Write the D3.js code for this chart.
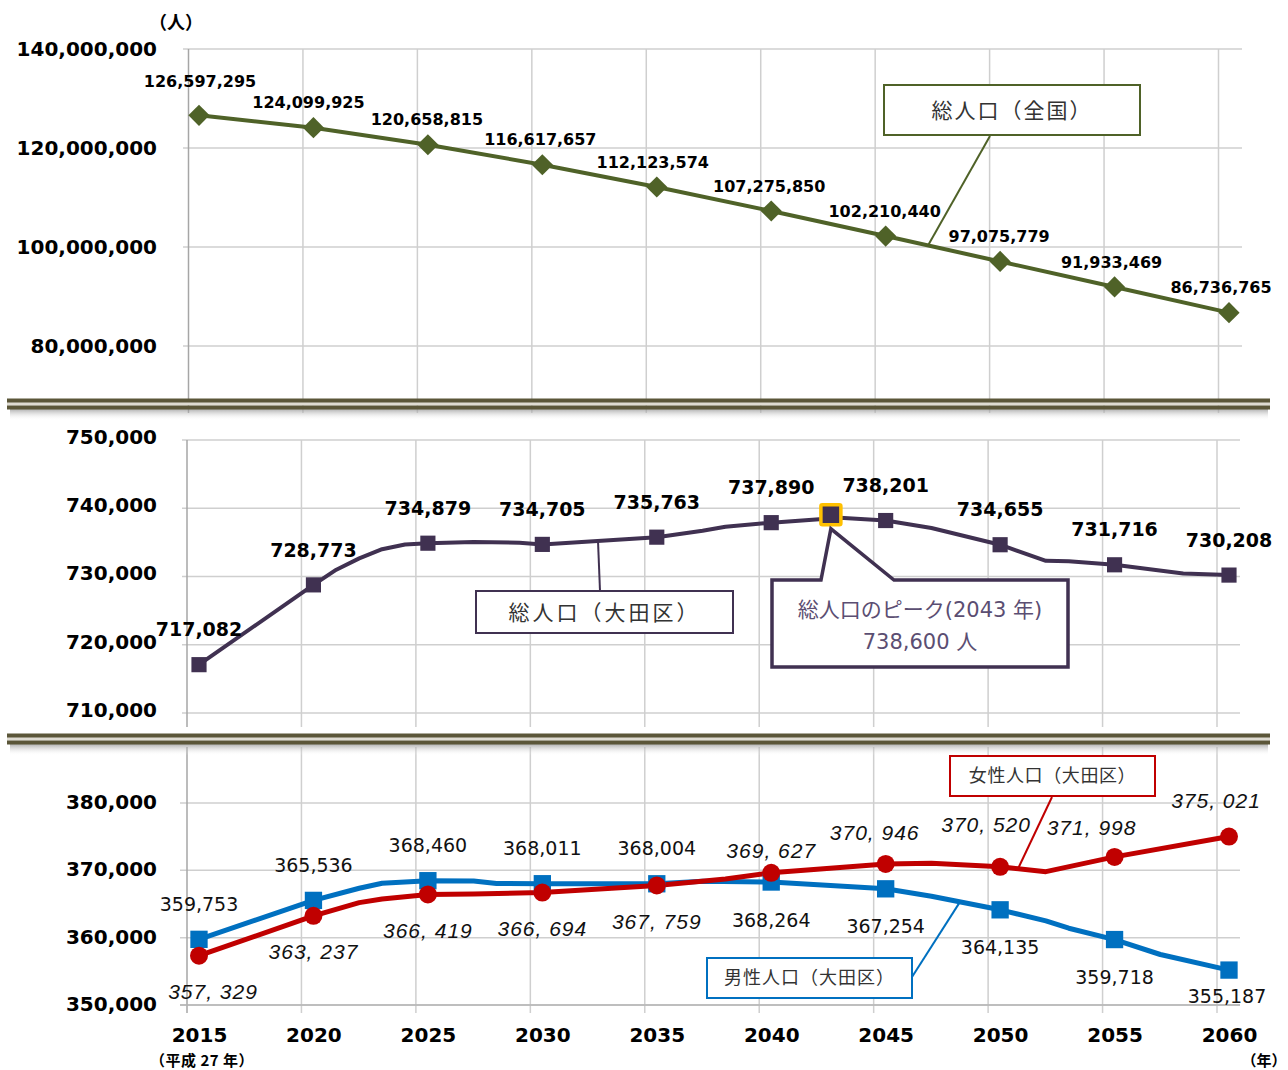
<!DOCTYPE html>
<html><head><meta charset="utf-8">
<script src="https://cdn.jsdelivr.net/npm/d3@7/dist/d3.min.js"></script>
<style>body{margin:0;background:#fff}svg{display:block}</style>
</head><body>
<svg id="chart" width="1288" height="1070"></svg>
<script>
// ---------- DATA ----------
const years = [2015, 2020, 2025, 2030, 2035, 2040, 2045, 2050, 2055, 2060];
const nationalPop = [126597295, 124099925, 120658815, 116617657, 112123574, 107275850, 102210440, 97075779, 91933469, 86736765];
const otaPop = [717082, 728773, 734879, 734705, 735763, 737890, 738201, 734655, 731716, 730208];
const otaLineYears  = [2015, 2020, 2021, 2022, 2023, 2024, 2025, 2027, 2029, 2030, 2035, 2037, 2038, 2040, 2043, 2045, 2047, 2050, 2052, 2053, 2055, 2058, 2060];
const otaLineValues = [717082, 728773, 731000, 732650, 734000, 734700, 734879, 735050, 734950, 734705, 735763, 736700, 737300, 737890, 738600, 738201, 737100, 734655, 732300, 732250, 731716, 730450, 730208];
const peakYear = 2043;
const peakValue = 738600;
const malePop = [359753, 365536, 368460, 368011, 368004, 368264, 367254, 364135, 359718, 355187];
const femalePop = [357329, 363237, 366419, 366694, 367759, 369627, 370946, 370520, 371998, 375021];
const maleLineYears  = [2015, 2020, 2022, 2023, 2025, 2027, 2028, 2030, 2035, 2037, 2040, 2045, 2047, 2050, 2052, 2053, 2055, 2057, 2060];
const maleLineValues = [359753, 365536, 367340, 368080, 368460, 368420, 368050, 368011, 368004, 368380, 368264, 367254, 366150, 364135, 362500, 361400, 359718, 357500, 355187];
const femaleLineYears  = [2015, 2020, 2022, 2023, 2025, 2027, 2030, 2035, 2038, 2040, 2045, 2047, 2050, 2052, 2055, 2060];
const femaleLineValues = [357329, 363237, 365200, 365750, 366419, 366500, 366694, 367759, 368700, 369627, 370946, 371050, 370520, 369800, 371998, 375021];
const nationalTicks = [80000000, 100000000, 120000000, 140000000];
const otaTicks = [710000, 720000, 730000, 740000, 750000];
const genderTicks = [350000, 360000, 370000, 380000];
const labelNational = "総人口（全国）";
const labelOta = "総人口（大田区）";
const labelPeak1 = "総人口のピーク(2043 年)";
const labelPeak2 = "738,600 人";
const labelFemale = "女性人口（大田区）";
const labelMale = "男性人口（大田区）";
const unitLabel = "（人）";
const eraLabel = "（平成 27 年）";
const yearUnitLabel = "（年）";

// ---------- LAYOUT ----------
const NUM = "'DejaVu Sans', Verdana, sans-serif";
const JP = "'Noto Sans CJK JP', 'Noto Sans', sans-serif";
const cNat = "#4f6228", cOta = "#403151", cMale = "#0070c0", cFem = "#c00000";
const gridC = "#cfcfcf";

const svg = d3.select("#chart");
const x = d3.scaleLinear().domain([2015, 2060]).range([199, 1229]);
const yTop = d3.scaleLinear().domain([70000000, 140000000]).range([395.5, 49]);
const yMid = d3.scaleLinear().domain([710000, 750000]).range([713, 440]);
const yBot = d3.scaleLinear().domain([350000, 380000]).range([1005, 803]);
const fmt = d3.format(",");

function valueAt(ys, vs, yr) {
  for (let i = 0; i < ys.length - 1; i++) {
    if (yr >= ys[i] && yr <= ys[i + 1]) return d3.interpolateNumber(vs[i], vs[i + 1])((yr - ys[i]) / (ys[i + 1] - ys[i]));
  }
  return vs[vs.length - 1];
}

const defs = svg.append("defs");
const sg = defs.append("linearGradient").attr("id", "shadow").attr("x1", 0).attr("y1", 0).attr("x2", 0).attr("y2", 1);
sg.append("stop").attr("offset", 0).attr("stop-color", "#8a8a8a").attr("stop-opacity", 0.75);
sg.append("stop").attr("offset", 1).attr("stop-color", "#ffffff").attr("stop-opacity", 0);

// ---------- GRIDS ----------
function grid(yScale, ticks, hx0, hx1, vTop, vBot, off) {
  const g = svg.append("g");
  g.selectAll("line.h").data(ticks).join("line")
    .attr("x1", hx0).attr("x2", hx1)
    .attr("y1", d => yScale(d)).attr("y2", d => yScale(d))
    .attr("stroke", gridC).attr("stroke-width", 1.5);
  g.selectAll("line.v").data(years).join("line")
    .attr("x1", d => x(d) - off).attr("x2", d => x(d) - off)
    .attr("y1", vTop).attr("y2", vBot)
    .attr("stroke", (d, i) => i === 0 ? "#a6a6a6" : gridC).attr("stroke-width", 1.5);
  return g;
}
grid(yTop, nationalTicks, 183, 1242, 49, 413, 10.5);
grid(yMid, otaTicks, 182, 1240, 440, 727, 12);
grid(yBot, genderTicks, 180, 1240, 747, 1013, 12);
svg.append("line").attr("x1", 180).attr("x2", 1240).attr("y1", yBot(350000)).attr("y2", yBot(350000))
  .attr("stroke", "#b5b5b5").attr("stroke-width", 1.5);

// ---------- BREAKS ----------
function drawBreak(yb) {
  const g = svg.append("g");
  g.append("rect").attr("x", 10).attr("y", yb + 10).attr("width", 1258).attr("height", 12).attr("fill", "url(#shadow)");
  g.append("rect").attr("x", 7).attr("y", yb + 3.5).attr("width", 1263).attr("height", 3.5).attr("fill", "#dedbd2");
  g.append("rect").attr("x", 7).attr("y", yb).attr("width", 1263).attr("height", 4).attr("fill", "#5b5639");
  g.append("rect").attr("x", 7).attr("y", yb + 7).attr("width", 1263).attr("height", 4).attr("fill", "#5b5639");
}
drawBreak(398.5);
drawBreak(733.5);

// ---------- AXES ----------
function yAxis(yScale, ticks, dy) {
  const g = svg.append("g").attr("transform", `translate(157,${dy})`)
    .call(d3.axisLeft(yScale).tickValues(ticks).tickSize(0).tickPadding(0).tickFormat(fmt));
  g.select(".domain").remove();
  g.selectAll("text").attr("font-family", NUM).attr("font-weight", "bold").attr("font-size", 20).attr("fill", "#000");
}
yAxis(yTop, nationalTicks, 0);
yAxis(yMid, otaTicks, -3);
yAxis(yBot, genderTicks, -1);

const xa = svg.append("g").attr("transform", "translate(0,1028)")
  .call(d3.axisBottom(x).tickValues(years).tickSize(0).tickPadding(0).tickFormat(d3.format("d")));
xa.select(".domain").remove();
xa.selectAll("text").attr("font-family", NUM).attr("font-weight", "bold").attr("font-size", 20).attr("fill", "#000");

svg.append("text").attr("x", 202).attr("y", 1066).attr("text-anchor", "middle")
  .attr("font-family", JP).attr("font-weight", "bold").attr("font-size", 15).attr("letter-spacing", 0.5).text(eraLabel);
svg.append("text").attr("x", 1264).attr("y", 1066).attr("text-anchor", "middle")
  .attr("font-family", JP).attr("font-weight", "bold").attr("font-size", 15).text(yearUnitLabel);
svg.append("text").attr("x", 176).attr("y", 29).attr("text-anchor", "middle")
  .attr("font-family", JP).attr("font-weight", "bold").attr("font-size", 18).text(unitLabel);

// ---------- TOP: national ----------
const natData = years.map((d, i) => ({ year: d, v: nationalPop[i] }));
svg.append("path").datum(natData)
  .attr("d", d3.line().x(d => x(d.year)).y(d => yTop(d.v)))
  .attr("fill", "none").attr("stroke", cNat).attr("stroke-width", 4);
svg.selectAll("path.dia").data(natData).join("path")
  .attr("d", d3.symbol(d3.symbolSquare, 225))
  .attr("transform", d => `translate(${x(d.year)},${yTop(d.v)}) rotate(45)`)
  .attr("fill", cNat);
const natNudge = [[1, -9], [-5, 0], [-1, 0], [-2, 0], [-4, 0], [-2, 0], [-1, 0], [-1, 0], [-3, 0], [-8, 0]];
svg.selectAll("text.nat").data(natData).join("text")
  .attr("x", (d, i) => x(d.year) + natNudge[i][0]).attr("y", (d, i) => yTop(d.v) - 25 + natNudge[i][1])
  .attr("dy", "0.35em").attr("text-anchor", "middle")
  .attr("font-family", NUM).attr("font-weight", "bold").attr("font-size", 16).attr("fill", "#000")
  .text(d => fmt(d.v));

// ---------- MIDDLE: Ota ----------
const otaLine = otaLineYears.map((d, i) => ({ year: d, v: otaLineValues[i] }));
svg.append("path").datum(otaLine)
  .attr("d", d3.line().x(d => x(d.year)).y(d => yMid(d.v)))
  .attr("fill", "none").attr("stroke", cOta).attr("stroke-width", 4).attr("stroke-linejoin", "round");
const otaData = years.map((d, i) => ({ year: d, v: otaPop[i] }));
svg.selectAll("path.sq").data(otaData).join("path")
  .attr("d", d3.symbol(d3.symbolSquare, 230))
  .attr("transform", d => `translate(${x(d.year)},${yMid(d.v)})`)
  .attr("fill", cOta);
// peak highlight (drawn slightly left, as in the source graphic)
const peakX = x(peakYear) - 9, peakY = yMid(peakValue) - 3;
svg.append("rect")
  .attr("x", peakX - 10).attr("y", peakY - 10).attr("width", 20).attr("height", 20)
  .attr("fill", cOta).attr("stroke", "#ffc000").attr("stroke-width", 3.5).attr("rx", 1.5);
svg.selectAll("text.ota").data(otaData).join("text")
  .attr("x", d => x(d.year)).attr("y", d => yMid(d.v) - 35)
  .attr("dy", "0.35em").attr("text-anchor", "middle")
  .attr("font-family", NUM).attr("font-weight", "bold").attr("font-size", 19).attr("fill", "#000")
  .text(d => fmt(d.v));

// ---------- BOTTOM: male / female ----------
const maleLine = maleLineYears.map((d, i) => ({ year: d, v: maleLineValues[i] }));
const femLine = femaleLineYears.map((d, i) => ({ year: d, v: femaleLineValues[i] }));
const lineB = d3.line().x(d => x(d.year)).y(d => yBot(d.v));
svg.append("path").datum(maleLine).attr("d", lineB)
  .attr("fill", "none").attr("stroke", cMale).attr("stroke-width", 5).attr("stroke-linejoin", "round");
svg.append("path").datum(femLine).attr("d", lineB)
  .attr("fill", "none").attr("stroke", cFem).attr("stroke-width", 5).attr("stroke-linejoin", "round");
const maleData = years.map((d, i) => ({ year: d, v: malePop[i] }));
const femData = years.map((d, i) => ({ year: d, v: femalePop[i] }));
svg.selectAll("path.msq").data(maleData).join("path")
  .attr("d", d3.symbol(d3.symbolSquare, 300))
  .attr("transform", d => `translate(${x(d.year)},${yBot(d.v)})`)
  .attr("fill", cMale);
svg.selectAll("circle.fc").data(femData).join("circle")
  .attr("cx", d => x(d.year)).attr("cy", d => yBot(d.v)).attr("r", 9)
  .attr("fill", cFem);

const maleNudge = [[0, -35], [0, -35], [0, -35], [0, -35], [0, -35], [0, 38], [0, 38], [0, 38], [0, 38], [-2, 26]];
svg.selectAll("text.male").data(maleData).join("text")
  .attr("x", (d, i) => x(d.year) + maleNudge[i][0]).attr("y", (d, i) => yBot(d.v) + maleNudge[i][1])
  .attr("dy", "0.35em").attr("text-anchor", "middle")
  .attr("font-family", NUM).attr("font-size", 19).attr("fill", "#111")
  .text(d => fmt(d.v));
const femNudge = [[14, 36], [0, 36], [0, 36], [0, 36], [0, 36], [0, -22], [-11, -31], [-14, -42], [-23, -29], [-13, -36]];
svg.selectAll("text.fem").data(femData).join("text")
  .attr("x", (d, i) => x(d.year) + femNudge[i][0]).attr("y", (d, i) => yBot(d.v) + femNudge[i][1])
  .attr("dy", "0.35em").attr("text-anchor", "middle")
  .attr("font-family", "'Liberation Sans', Arial, sans-serif").attr("font-style", "italic")
  .attr("font-size", 21).attr("letter-spacing", 1).attr("fill", "#111")
  .text(d => fmt(d.v).replace(",", ", "));

// ---------- CALLOUTS ----------
function box(x0, y0, w, h, color, sw, text, fs, ls) {
  svg.append("rect").attr("x", x0).attr("y", y0).attr("width", w).attr("height", h)
    .attr("fill", "#fff").attr("stroke", color).attr("stroke-width", sw);
  svg.append("text").attr("x", x0 + w / 2).attr("y", y0 + h / 2).attr("dy", "0.36em").attr("text-anchor", "middle")
    .attr("font-family", JP).attr("font-size", fs).attr("letter-spacing", ls).attr("fill", "#333").text(text);
}
function leader(x1, y1, x2, y2, color, w) {
  svg.append("line").attr("x1", x1).attr("y1", y1).attr("x2", x2).attr("y2", y2)
    .attr("stroke", color).attr("stroke-width", w);
}
// national
const natYr = x.invert(928);
leader(990, 136, 928, yTop(valueAt(years, nationalPop, natYr)), cNat, 2);
box(884, 85, 256, 50, cNat, 2, labelNational, 21, 2);
// ota
const otaYr = x.invert(598);
leader(600, 591, 598, yMid(valueAt(otaLineYears, otaLineValues, otaYr)), cOta, 2);
box(476, 591, 257, 42, cOta, 2, labelOta, 21, 3);
// peak
const pts = [[772, 580], [821, 580], [peakX, peakY + 14], [894, 580], [1068, 580], [1068, 667], [772, 667]];
svg.append("path").attr("d", d3.line()(pts) + "Z").attr("fill", "#fff").attr("stroke", cOta).attr("stroke-width", 3.5).attr("stroke-linejoin", "miter");
svg.append("text").attr("x", 920).attr("y", 609).attr("dy", "0.36em").attr("text-anchor", "middle")
  .attr("font-family", NUM + ", " + JP).attr("font-size", 21).attr("fill", "#5b4e72").text(labelPeak1);
svg.append("text").attr("x", 920).attr("y", 641).attr("dy", "0.36em").attr("text-anchor", "middle")
  .attr("font-family", NUM + ", " + JP).attr("font-size", 21).attr("fill", "#5b4e72").text(labelPeak2);
// female
const femYr = x.invert(1018);
leader(1052, 797, 1018, yBot(valueAt(femaleLineYears, femaleLineValues, femYr)), cFem, 2);
box(950, 756, 205, 40, cFem, 2, labelFemale, 18, 0.6);
// male
const maleYr = x.invert(960);
leader(912, 977, 960, yBot(valueAt(maleLineYears, maleLineValues, maleYr)), cMale, 2);
box(707, 958, 205, 40, cMale, 2, labelMale, 18, 1);
</script>
</body></html>
